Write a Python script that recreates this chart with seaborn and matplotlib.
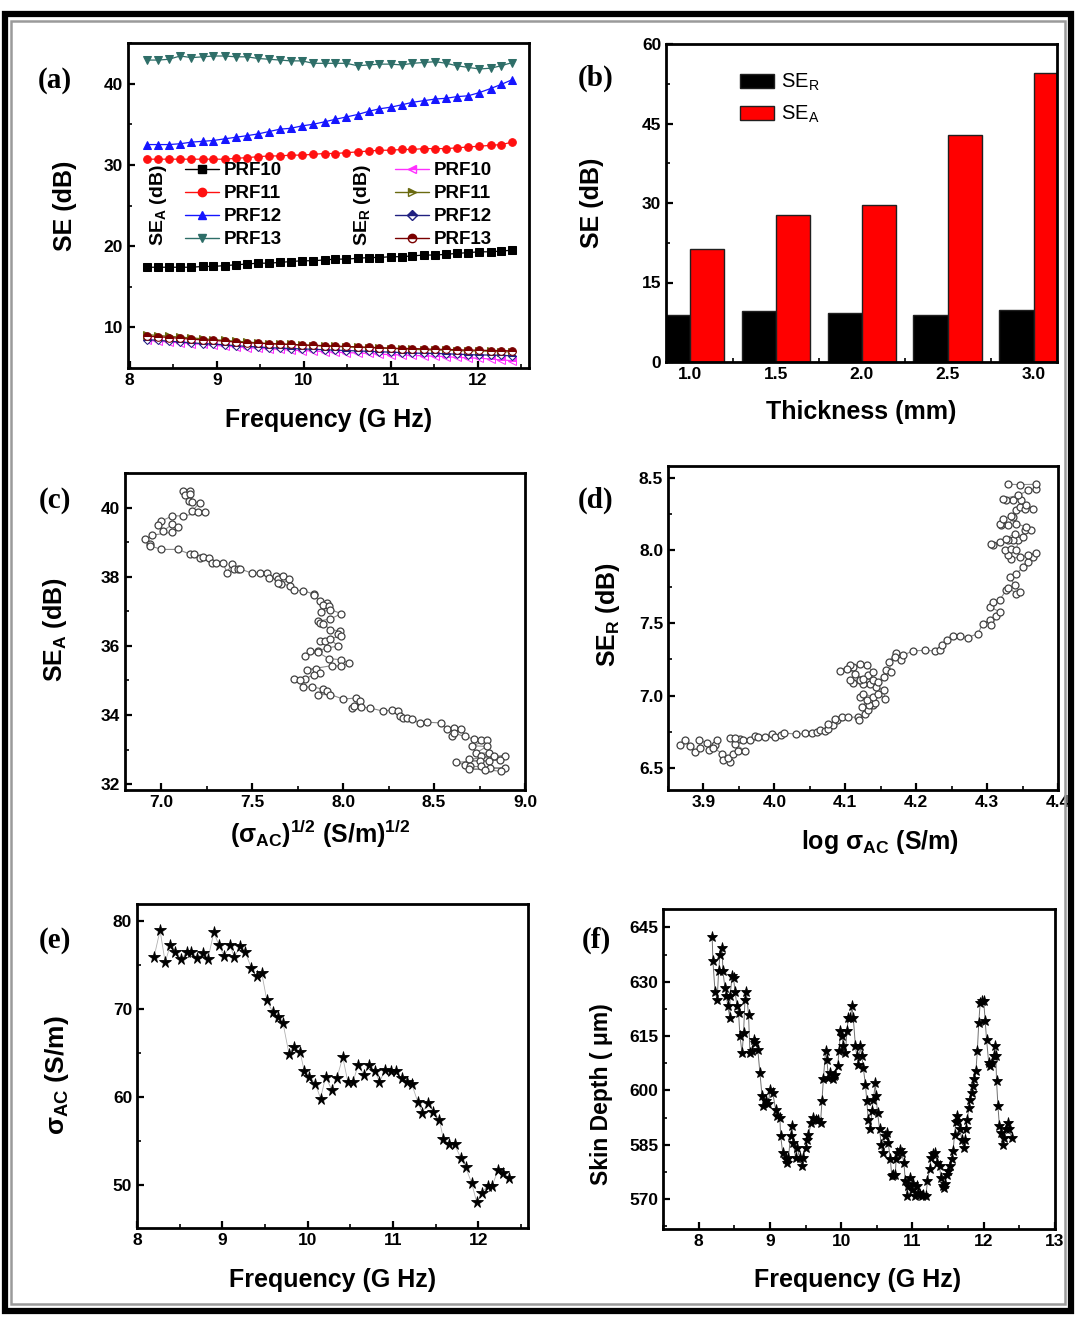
import numpy as np
import pandas as pd
import matplotlib
matplotlib.use("Agg")
import matplotlib.pyplot as plt
from matplotlib.patches import Rectangle, Patch
from matplotlib.lines import Line2D
from matplotlib.ticker import MultipleLocator, FormatStrFormatter
import seaborn as sns

# ---------------- data ----------------
# (a) shielding effectiveness vs frequency
freq_a = [8.20, 8.33, 8.45, 8.58, 8.71, 8.84, 8.96, 9.09, 9.22, 9.35, 9.47, 9.60,
          9.73, 9.85, 9.98, 10.11, 10.24, 10.36, 10.49, 10.62, 10.75, 10.87, 11.00,
          11.13, 11.25, 11.38, 11.51, 11.64, 11.76, 11.89, 12.02, 12.15, 12.27, 12.40]
sea_prf10 = [17.4, 17.4, 17.4, 17.4, 17.4, 17.5, 17.5, 17.6, 17.7, 17.8, 17.9, 17.9,
             18.0, 18.1, 18.2, 18.2, 18.3, 18.4, 18.4, 18.5, 18.6, 18.6, 18.7, 18.7,
             18.8, 18.9, 18.9, 19.0, 19.1, 19.2, 19.3, 19.3, 19.4, 19.5]
sea_prf11 = [30.7, 30.7, 30.7, 30.7, 30.7, 30.7, 30.7, 30.7, 30.8, 30.9, 31.0, 31.1,
             31.1, 31.2, 31.2, 31.3, 31.4, 31.4, 31.5, 31.6, 31.7, 31.8, 31.8, 31.9,
             31.9, 32.0, 32.0, 32.0, 32.1, 32.2, 32.3, 32.4, 32.5, 32.8]
sea_prf12 = [32.5, 32.5, 32.5, 32.6, 32.8, 32.9, 33.0, 33.2, 33.4, 33.6, 33.8, 34.1,
             34.4, 34.5, 34.8, 35.0, 35.3, 35.6, 35.9, 36.2, 36.6, 36.9, 37.1, 37.4,
             37.7, 37.9, 38.1, 38.2, 38.4, 38.5, 38.9, 39.4, 39.9, 40.5]
sea_prf13 = [42.9, 42.9, 43.0, 43.4, 43.2, 43.3, 43.4, 43.4, 43.3, 43.3, 43.1, 43.0,
             42.9, 42.8, 42.8, 42.5, 42.5, 42.5, 42.5, 42.2, 42.3, 42.4, 42.4, 42.3,
             42.5, 42.6, 42.7, 42.5, 42.2, 42.0, 41.8, 41.9, 42.2, 42.6]
ser_prf10 = [8.4, 8.3, 8.2, 8.1, 8.0, 7.9, 7.8, 7.7, 7.6, 7.5, 7.45, 7.35, 7.3, 7.2,
             7.15, 7.1, 7.0, 6.95, 6.9, 6.85, 6.8, 6.7, 6.65, 6.6, 6.55, 6.5, 6.45,
             6.4, 6.3, 6.25, 6.2, 6.1, 6.0, 5.9]
ser_prf11 = [9.1, 9.0, 8.9, 8.8, 8.7, 8.6, 8.5, 8.4, 8.3, 8.2, 8.1, 8.0, 7.95, 7.9,
             7.8, 7.75, 7.7, 7.65, 7.6, 7.55, 7.5, 7.45, 7.4, 7.35, 7.3, 7.25, 7.2,
             7.2, 7.15, 7.1, 7.1, 7.05, 7.0, 7.0]
ser_prf12 = [8.5, 8.4, 8.3, 8.2, 8.1, 8.0, 7.95, 7.85, 7.75, 7.65, 7.6, 7.5, 7.45,
             7.4, 7.35, 7.3, 7.25, 7.2, 7.15, 7.1, 7.05, 7.0, 6.95, 6.9, 6.85, 6.8,
             6.8, 6.75, 6.7, 6.65, 6.6, 6.6, 6.55, 6.5]
ser_prf13 = [8.9, 8.85, 8.75, 8.65, 8.55, 8.45, 8.4, 8.3, 8.2, 8.1, 8.05, 8.0, 7.95,
             7.9, 7.85, 7.8, 7.75, 7.7, 7.65, 7.6, 7.55, 7.5, 7.45, 7.4, 7.4, 7.35,
             7.3, 7.3, 7.25, 7.2, 7.2, 7.15, 7.15, 7.1]

# (b) SE vs thickness
thickness = ["1.0", "1.5", "2.0", "2.5", "3.0"]
se_r_thk = [8.8, 9.6, 9.2, 8.9, 9.8]
se_a_thk = [21.4, 27.8, 29.6, 42.8, 54.5]

# (c) SE_A vs sqrt(sigma_AC)
c_sqrt_sigma = [7.12, 7.16, 7.13, 7.16, 7.15, 7.17, 7.21, 7.17, 7.20, 7.24, 7.12, 7.06,
                7.00, 6.98, 7.01, 7.06, 7.09, 7.06, 6.95, 6.91, 6.94, 6.94, 7.00, 7.09,
                7.16, 7.18, 7.21, 7.23, 7.26, 7.28, 7.30, 7.34, 7.36, 7.39, 7.40, 7.42,
                7.43, 7.50, 7.54, 7.58, 7.59, 7.63, 7.64, 7.67, 7.70, 7.66, 7.64, 7.71,
                7.73, 7.78, 7.84, 7.84, 7.87, 7.91, 7.89, 7.92, 7.88, 7.93, 7.99, 7.93,
                7.86, 7.87, 7.89, 7.93, 7.98, 7.97, 7.99, 7.87, 7.90, 7.93, 7.97, 7.91,
                7.86, 7.82, 7.79, 7.86, 7.92, 7.99, 8.03, 7.99, 7.94, 7.80, 7.85, 7.87,
                7.84, 7.79, 7.73, 7.76, 7.78, 7.83, 7.89, 7.91, 7.86, 7.93, 8.00, 8.07,
                8.09, 8.05, 8.06, 8.10, 8.15, 8.22, 8.27, 8.30, 8.31, 8.33, 8.35, 8.38,
                8.42, 8.46, 8.54, 8.57, 8.61, 8.65, 8.60, 8.61, 8.67, 8.72, 8.76, 8.79,
                8.71, 8.79, 8.73, 8.80, 8.76, 8.83, 8.89, 8.69, 8.75, 8.80, 8.86, 8.62,
                8.67, 8.70, 8.76, 8.81, 8.89, 8.69, 8.78, 8.87]
c_sea = [40.48, 40.48, 40.36, 40.39, 40.19, 40.16, 40.14, 39.90, 39.87, 39.87, 39.76,
         39.76, 39.61, 39.49, 39.32, 39.52, 39.45, 39.29, 39.20, 39.08, 38.94, 38.89,
         38.79, 38.79, 38.65, 38.65, 38.55, 38.58, 38.55, 38.39, 38.39, 38.39, 38.12,
         38.38, 38.23, 38.21, 38.23, 38.10, 38.10, 38.10, 37.97, 38.02, 37.92, 38.02,
         37.92, 37.78, 37.83, 37.73, 37.61, 37.60, 37.49, 37.46, 37.29, 37.25, 37.17,
         37.15, 36.98, 37.05, 36.93, 36.78, 36.71, 36.67, 36.64, 36.47, 36.43, 36.33,
         36.28, 36.15, 36.14, 36.20, 35.99, 35.94, 35.85, 35.85, 35.72, 35.82, 35.63,
         35.60, 35.51, 35.41, 35.43, 35.31, 35.33, 35.22, 35.17, 35.04, 35.04, 35.00,
         34.81, 34.81, 34.75, 34.69, 34.59, 34.59, 34.46, 34.49, 34.40, 34.20, 34.25,
         34.23, 34.20, 34.11, 34.15, 34.11, 33.96, 33.91, 33.91, 33.88, 33.77, 33.79,
         33.77, 33.59, 33.62, 33.59, 33.38, 33.47, 33.38, 33.30, 33.29, 33.27, 33.11,
         33.09, 32.90, 32.90, 32.80, 32.80, 32.82, 32.72, 32.66, 32.66, 32.71, 32.63,
         32.56, 32.51, 32.51, 32.48, 32.46, 32.43, 32.42, 32.37]

# (d) SE_R vs log sigma_AC
d_log_sigma = [3.867, 3.874, 3.881, 3.888, 3.895, 3.894, 3.905, 3.908, 3.916, 3.919,
               3.914, 3.926, 3.928, 3.938, 3.935, 3.942, 3.949, 3.959, 3.945, 3.952,
               3.938, 3.945, 3.956, 3.966, 3.973, 3.977, 3.987, 3.996, 4.001, 4.010,
               4.013, 4.031, 4.043, 4.053, 4.060, 4.064, 4.071, 4.076, 4.083, 4.076,
               4.088, 4.085, 4.095, 4.104, 4.118, 4.120, 4.128, 4.132, 4.139, 4.142,
               4.134, 4.124, 4.130, 4.121, 4.125, 4.139, 4.146, 4.156, 4.154, 4.144,
               4.135, 4.125, 4.111, 4.107, 4.121, 4.132, 4.139, 4.130, 4.121, 4.111,
               4.107, 4.092, 4.102, 4.114, 4.125, 4.139, 4.146, 4.154, 4.158, 4.165,
               4.161, 4.172, 4.170, 4.179, 4.182, 4.195, 4.212, 4.226, 4.233, 4.236,
               4.243, 4.252, 4.262, 4.273, 4.287, 4.294, 4.304, 4.306, 4.313, 4.318,
               4.304, 4.308, 4.318, 4.327, 4.330, 4.341, 4.346, 4.339, 4.332, 4.341,
               4.351, 4.358, 4.365, 4.369, 4.358, 4.346, 4.334, 4.330, 4.325, 4.334,
               4.341, 4.344, 4.337, 4.330, 4.308, 4.306, 4.318, 4.327, 4.339, 4.351,
               4.353, 4.362, 4.355, 4.341, 4.337, 4.330, 4.320, 4.318, 4.323, 4.334,
               4.341, 4.346, 4.353, 4.365, 4.355, 4.348, 4.337, 4.327, 4.323, 4.344,
               4.358, 4.369, 4.369, 4.346, 4.330]
d_ser = [6.658, 6.693, 6.651, 6.612, 6.642, 6.693, 6.674, 6.624, 6.658, 6.697, 6.642,
         6.601, 6.555, 6.544, 6.567, 6.601, 6.619, 6.619, 6.665, 6.704, 6.711, 6.711,
         6.697, 6.693, 6.720, 6.716, 6.716, 6.734, 6.716, 6.727, 6.743, 6.734, 6.739,
         6.743, 6.750, 6.761, 6.757, 6.773, 6.796, 6.807, 6.830, 6.842, 6.853, 6.849,
         6.853, 6.835, 6.876, 6.904, 6.934, 6.950, 6.934, 6.922, 6.968, 6.991, 7.014,
         6.991, 7.014, 6.979, 7.037, 7.060, 7.083, 7.078, 7.087, 7.106, 7.106, 7.140,
         7.163, 7.209, 7.220, 7.197, 7.209, 7.170, 7.186, 7.151, 7.117, 7.106, 7.094,
         7.128, 7.174, 7.163, 7.232, 7.294, 7.266, 7.243, 7.278, 7.307, 7.312, 7.307,
         7.317, 7.346, 7.381, 7.408, 7.408, 7.399, 7.427, 7.495, 7.523, 7.484, 7.546,
         7.576, 7.610, 7.644, 7.661, 7.725, 7.743, 7.702, 7.713, 7.759, 7.817, 7.839,
         7.885, 7.920, 7.954, 7.982, 7.966, 7.954, 7.943, 7.966, 8.000, 8.011, 8.000,
         8.069, 8.073, 8.069, 8.034, 8.046, 8.057, 8.080, 8.115, 8.092, 8.142, 8.142,
         8.161, 8.183, 8.229, 8.172, 8.172, 8.183, 8.218, 8.234, 8.275, 8.298, 8.287,
         8.287, 8.310, 8.349, 8.344, 8.349, 8.356, 8.378, 8.413, 8.424, 8.454, 8.452,
         8.454]

# (e) AC conductivity vs frequency
freq_e = [8.20, 8.27, 8.33, 8.39, 8.45, 8.52, 8.58, 8.63, 8.70, 8.77, 8.83, 8.90, 8.96,
          9.02, 9.09, 9.14, 9.21, 9.27, 9.34, 9.40, 9.46, 9.52, 9.59, 9.65, 9.71, 9.78,
          9.84, 9.91, 9.96, 10.02, 10.09, 10.15, 10.21, 10.28, 10.34, 10.41, 10.47,
          10.53, 10.59, 10.66, 10.72, 10.79, 10.84, 10.91, 10.97, 11.03, 11.10, 11.16,
          11.22, 11.29, 11.34, 11.41, 11.47, 11.54, 11.59, 11.66, 11.72, 11.79, 11.85,
          11.92, 11.98, 12.04, 12.11, 12.16, 12.23, 12.29, 12.36]
sigma_ac = [75.9, 78.9, 75.3, 77.2, 76.5, 75.6, 76.4, 76.5, 75.8, 76.3, 75.6, 78.7,
            77.2, 76.0, 77.2, 75.9, 77.1, 76.4, 74.6, 73.7, 74.1, 71.0, 69.6, 69.1,
            68.4, 64.9, 65.7, 65.1, 62.9, 62.2, 61.5, 59.8, 62.3, 60.8, 62.1, 64.5,
            61.7, 61.7, 63.6, 62.5, 63.6, 62.9, 61.7, 63.1, 62.9, 62.9, 62.1, 61.7,
            61.4, 59.4, 58.2, 59.3, 58.3, 57.4, 55.2, 54.6, 54.6, 53.1, 52.0, 50.2,
            48.0, 49.1, 49.9, 49.9, 51.7, 51.4, 50.8]

# (f) skin depth vs frequency
freq_f = [8.19, 8.20, 8.23, 8.26, 8.28, 8.30, 8.33, 8.34, 8.37, 8.39, 8.41, 8.44, 8.44,
          8.47, 8.49, 8.51, 8.54, 8.56, 8.58, 8.61, 8.63, 8.65, 8.67, 8.70, 8.72, 8.75,
          8.77, 8.79, 8.83, 8.86, 8.89, 8.91, 8.95, 8.98, 9.00, 9.04, 9.08, 9.10, 9.14,
          9.15, 9.18, 9.22, 9.24, 9.26, 9.29, 9.31, 9.33, 9.36, 9.38, 9.42, 9.45, 9.47,
          9.50, 9.52, 9.54, 9.58, 9.60, 9.64, 9.67, 9.71, 9.73, 9.75, 9.78, 9.80, 9.82,
          9.85, 9.88, 9.90, 9.92, 9.95, 9.97, 9.99, 10.01, 10.03, 10.06, 10.08, 10.10,
          10.13, 10.15, 10.17, 10.20, 10.22, 10.24, 10.27, 10.29, 10.31, 10.34, 10.36,
          10.38, 10.41, 10.43, 10.45, 10.48, 10.49, 10.51, 10.54, 10.56, 10.58, 10.61,
          10.64, 10.66, 10.69, 10.71, 10.73, 10.76, 10.77, 10.79, 10.82, 10.85, 10.88,
          10.90, 10.92, 10.94, 10.97, 10.99, 11.01, 11.04, 11.06, 11.08, 11.11, 11.13,
          11.15, 11.19, 11.21, 11.24, 11.26, 11.29, 11.32, 11.35, 11.38, 11.40, 11.43,
          11.44, 11.46, 11.48, 11.50, 11.53, 11.55, 11.57, 11.59, 11.61, 11.63, 11.64,
          11.67, 11.69, 11.72, 11.74, 11.75, 11.77, 11.79, 11.81, 11.83, 11.85, 11.87,
          11.89, 11.91, 11.93, 11.95, 11.97, 12.00, 12.02, 12.04, 12.07, 12.09, 12.11,
          12.14, 12.16, 12.17, 12.18, 12.20, 12.22, 12.24, 12.27, 12.29, 12.31, 12.34,
          12.36, 12.39]
skin_depth = [642.5, 635.8, 627.3, 625.0, 632.9, 637.5, 639.3, 632.9, 628.3, 626.0,
              623.2, 620.0, 626.0, 631.5, 631.0, 627.3, 623.2, 621.4, 614.9, 610.3,
              615.8, 625.0, 627.3, 620.9, 610.3, 610.8, 614.0, 613.1, 611.2, 604.8,
              598.4, 595.6, 597.0, 596.1, 600.2, 599.3, 594.7, 592.8, 592.4, 587.5,
              582.7, 580.9, 580.0, 581.3, 587.5, 590.1, 585.5, 581.3, 584.1, 581.3,
              579.0, 581.3, 584.1, 586.4, 587.8, 591.0, 592.4, 591.9, 591.9, 591.0,
              597.0, 603.0, 610.8, 608.5, 603.4, 604.8, 603.0, 603.9, 604.3, 606.6,
              610.8, 616.3, 614.9, 612.2, 610.3, 616.3, 620.0, 620.0, 623.2, 620.0,
              612.2, 609.4, 607.1, 612.2, 609.4, 606.2, 601.6, 597.0, 591.9, 589.2,
              594.2, 597.4, 602.0, 598.4, 593.8, 589.2, 585.0, 582.7, 587.3, 588.2,
              585.5, 580.9, 576.3, 576.7, 576.7, 580.9, 582.7, 583.6, 582.7, 580.0,
              574.9, 570.8, 573.5, 575.8, 572.6, 574.0, 570.8, 573.5, 571.7, 571.2,
              570.9, 571.2, 570.9, 574.9, 578.3, 581.3, 582.3, 582.7, 580.0, 579.0,
              575.8, 573.5, 573.1, 574.0, 576.7, 577.7, 579.0, 580.9, 583.2, 587.8,
              591.2, 592.8, 591.5, 589.2, 586.4, 584.1, 586.4, 589.2, 591.9, 595.1,
              597.4, 599.3, 601.1, 603.0, 605.3, 610.8, 618.6, 624.1, 624.6, 624.6,
              619.1, 614.0, 607.6, 606.6, 607.6, 609.4, 612.2, 609.4, 602.5, 595.6,
              590.1, 588.2, 585.0, 586.9, 589.2, 591.0, 589.2, 586.9]

# ---------------- style ----------------
sns.set_theme(style="ticks")
plt.rcParams.update({
    "font.family": ["Liberation Sans", "DejaVu Sans"],
    "font.weight": "bold",
    "axes.labelweight": "bold",
    "axes.linewidth": 2.0,
    "axes.edgecolor": "black",
    "axes.labelcolor": "black",
    "text.color": "black",
    "xtick.color": "black", "ytick.color": "black",
    "xtick.direction": "in", "ytick.direction": "in",
    "xtick.major.size": 5, "ytick.major.size": 5,
    "xtick.minor.size": 3, "ytick.minor.size": 3,
    "xtick.major.width": 1.6, "ytick.major.width": 1.6,
    "xtick.minor.width": 1.2, "ytick.minor.width": 1.2,
    "xtick.labelsize": 12.5, "ytick.labelsize": 12.5,
    "axes.labelsize": 18,
    "mathtext.fontset": "custom",
    "mathtext.rm": "Liberation Sans:bold",
    "mathtext.bf": "Liberation Sans:bold",
    "mathtext.it": "Liberation Sans:bold",
    "mathtext.sf": "Liberation Sans:bold",
})

W, H = 1076, 1323
fig = plt.figure(figsize=(W / 100, H / 100), dpi=100)
fig.patch.set_facecolor("white")


def panel(left, right, top, bottom):
    return fig.add_axes([left / W, 1 - bottom / H, (right - left) / W, (bottom - top) / H])


def labels(ax, xl, yl, xpos, ypos):
    ax.set_xlabel(xl)
    ax.set_ylabel(yl)
    ax.xaxis.label.set_va("center")
    ax.yaxis.label.set_va("center")
    ax.xaxis.set_label_coords(*xpos)
    ax.yaxis.set_label_coords(*ypos)


# ---------------- (a) ----------------
ax = panel(128, 529, 43, 368)
sea_series = [("PRF10", sea_prf10, "black", "s"),
              ("PRF11", sea_prf11, "#ff1010", "o"),
              ("PRF12", sea_prf12, "#1515ff", "^"),
              ("PRF13", sea_prf13, "#2e6e68", "v")]
ser_series = [("PRF10", ser_prf10, "#ff30ff", "<"),
              ("PRF11", ser_prf11, "#6a6a10", ">"),
              ("PRF12", ser_prf12, "#202080", "D"),
              ("PRF13", ser_prf13, "#7a0000", "o")]
sea_handles, ser_handles = [], []
for name, vals, col, mk in sea_series:
    sns.lineplot(x=freq_a, y=vals, ax=ax, color=col, marker=mk, markersize=5.5,
                 markeredgecolor=col, lw=0.9, legend=False)
    sea_handles.append(Line2D([], [], color=col, marker=mk, markersize=6, lw=1))
for name, vals, col, mk in ser_series:
    ms = 4.5 if mk == "D" else 5.5
    sns.lineplot(x=freq_a, y=vals, ax=ax, color=col, marker=mk, markersize=ms,
                 markeredgecolor=col, markerfacecolor=col, fillstyle="top",
                 markerfacecoloralt="white", lw=0.9, legend=False)
    ser_handles.append(Line2D([], [], color=col, marker=mk, markersize=ms + 0.5, lw=1,
                              fillstyle="top", markerfacecoloralt="white"))
ax.set_xlim(7.98, 12.59)
ax.set_ylim(5, 45)
ax.xaxis.set_major_locator(MultipleLocator(1))
ax.xaxis.set_minor_locator(MultipleLocator(0.5))
ax.yaxis.set_major_locator(MultipleLocator(10))
ax.yaxis.set_minor_locator(MultipleLocator(5))
leg_kw = dict(loc="upper left", frameon=False, handlelength=1.8, handletextpad=0.25,
              labelspacing=0.32, borderpad=0, borderaxespad=0,
              prop={"weight": "bold", "size": 13.5})
leg1 = ax.legend(sea_handles, [s[0] for s in sea_series], bbox_to_anchor=(0.142, 0.634), **leg_kw)
ax.add_artist(leg1)
ax.legend(ser_handles, [s[0] for s in ser_series], bbox_to_anchor=(0.666, 0.634), **leg_kw)
ax.text(0.075, 0.50, r"SE$_A$ (dB)", rotation=90, transform=ax.transAxes,
        ha="center", va="center", fontsize=14, fontweight="bold")
ax.text(0.584, 0.50, r"SE$_R$ (dB)", rotation=90, transform=ax.transAxes,
        ha="center", va="center", fontsize=14, fontweight="bold")
labels(ax, "Frequency (G Hz)", "SE (dB)", (0.5, -0.16), (-0.157, 0.5))

# ---------------- (b) ----------------
ax = panel(666, 1057, 44, 362)
df_b = pd.DataFrame({
    "thickness": thickness * 2,
    "SE": se_r_thk + se_a_thk,
    "kind": ["SE_R"] * len(thickness) + ["SE_A"] * len(thickness),
})
sns.barplot(data=df_b, x="thickness", y="SE", hue="kind", hue_order=["SE_R", "SE_A"],
            palette=["black", "#ff0000"], saturation=1, edgecolor="#202020",
            linewidth=1.0, width=0.8, ax=ax, legend=False)
ax.set_xlim(-0.28, 4.27)
ax.set_ylim(0, 60)
ax.yaxis.set_major_locator(MultipleLocator(15))
ax.yaxis.set_minor_locator(MultipleLocator(7.5))
ax.xaxis.set_minor_locator(MultipleLocator(0.5))
ax.legend([Patch(facecolor="black", edgecolor="#202020"),
           Patch(facecolor="#ff0000", edgecolor="#202020")],
          [r"SE$\mathregular{_R}$", r"SE$\mathregular{_A}$"],
          loc="upper left", bbox_to_anchor=(0.189, 0.913), frameon=False,
          handlelength=1.7, handleheight=0.7, handletextpad=0.35, labelspacing=0.55,
          borderpad=0, borderaxespad=0, prop={"weight": "normal", "size": 14.5})
labels(ax, "Thickness (mm)", "SE (dB)", (0.5, -0.157), (-0.189, 0.5))

# ---------------- (c) ----------------
ax = panel(125, 525, 473, 790)
sns.lineplot(x=c_sqrt_sigma, y=c_sea, sort=False, estimator=None, ax=ax,
             color="#8a8a8a", lw=0.8, marker="o", markersize=5,
             markerfacecolor="white", markeredgecolor="#404040", markeredgewidth=0.9)
ax.set_xlim(6.8, 9.0)
ax.set_ylim(31.83, 41.0)
ax.xaxis.set_major_locator(MultipleLocator(0.5))
ax.xaxis.set_minor_locator(MultipleLocator(0.25))
ax.xaxis.set_major_formatter(FormatStrFormatter("%.1f"))
ax.yaxis.set_major_locator(MultipleLocator(2))
ax.yaxis.set_minor_locator(MultipleLocator(1))
labels(ax, r"(σ$_{AC}$)$^{1/2}$ (S/m)$^{1/2}$", r"SE$_A$ (dB)", (0.4875, -0.14), (-0.175, 0.505))

# ---------------- (d) ----------------
ax = panel(668, 1058, 466, 790)
sns.lineplot(x=d_log_sigma, y=d_ser, sort=False, estimator=None, ax=ax,
             color="#8a8a8a", lw=0.8, marker="o", markersize=5,
             markerfacecolor="white", markeredgecolor="#404040", markeredgewidth=0.9)
ax.set_xlim(3.85, 4.40)
ax.set_ylim(6.35, 8.58)
ax.xaxis.set_major_locator(MultipleLocator(0.1))
ax.xaxis.set_minor_locator(MultipleLocator(0.05))
ax.xaxis.set_major_formatter(FormatStrFormatter("%.1f"))
ax.yaxis.set_major_locator(MultipleLocator(0.5))
ax.yaxis.set_minor_locator(MultipleLocator(0.25))
ax.yaxis.set_major_formatter(FormatStrFormatter("%.1f"))
labels(ax, r"log σ$_{AC}$ (S/m)", r"SE$_R$ (dB)", (0.544, -0.16), (-0.154, 0.54))

# ---------------- (e) ----------------
ax = panel(137, 528, 904, 1228)
sns.lineplot(x=freq_e, y=sigma_ac, sort=False, estimator=None, ax=ax,
             color="#b0b0b0", lw=0.6, marker="*", markersize=8.5,
             markerfacecolor="black", markeredgecolor="black", markeredgewidth=0.6)
ax.set_xlim(8.0, 12.58)
ax.set_ylim(45.1, 81.9)
ax.xaxis.set_major_locator(MultipleLocator(1))
ax.xaxis.set_minor_locator(MultipleLocator(0.5))
ax.yaxis.set_major_locator(MultipleLocator(10))
ax.yaxis.set_minor_locator(MultipleLocator(5))
labels(ax, "Frequency (G Hz)", r"σ$_{AC}$ (S/m)", (0.5, -0.16), (-0.205, 0.472))
ax.yaxis.label.set_size(19)

# ---------------- (f) ----------------
ax = panel(663, 1055, 909, 1229)
sns.lineplot(x=freq_f, y=skin_depth, sort=False, estimator=None, ax=ax,
             color="#707070", lw=0.7, marker="*", markersize=8,
             markerfacecolor="black", markeredgecolor="black", markeredgewidth=0.6)
ax.set_xlim(7.5, 13.0)
ax.set_ylim(561.7, 650.1)
ax.xaxis.set_major_locator(MultipleLocator(1))
ax.xaxis.set_minor_locator(MultipleLocator(0.5))
ax.yaxis.set_major_locator(MultipleLocator(15))
ax.yaxis.set_minor_locator(MultipleLocator(7.5))
labels(ax, "Frequency (G Hz)", "Skin Depth ( μm)", (0.497, -0.16), (-0.158, 0.42))
ax.yaxis.label.set_size(16.5)

# ---------------- panel letters ----------------
for letter, (px, py) in {"(a)": (55, 80), "(b)": (596, 78), "(c)": (55, 500),
                         "(d)": (596, 500), "(e)": (55, 940), "(f)": (596, 940)}.items():
    fig.text(px / W, 1 - py / H, letter, family=["Liberation Serif", "DejaVu Serif"],
             fontsize=21, fontweight="bold", ha="center", va="center")

# ---------------- outer frame ----------------
fig.add_artist(Rectangle((11 / W, 1 - 1304 / H), (1065 - 11) / W, (1304 - 21) / H,
                         transform=fig.transFigure, fill=False, lw=1.8, ec="#9a9a9a"))
fig.add_artist(Rectangle((5 / W, 1 - 1311 / H), (1071 - 5) / W, (1311 - 14) / H,
                         transform=fig.transFigure, fill=False, lw=4.5, ec="black"))

fig.savefig("out.png", dpi=100, facecolor="white")
